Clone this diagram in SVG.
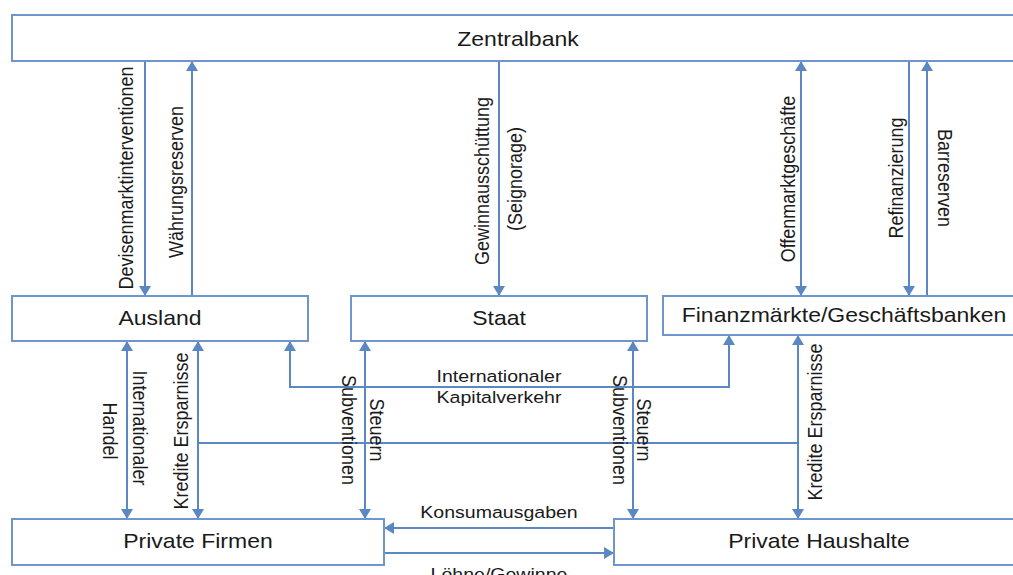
<svg xmlns="http://www.w3.org/2000/svg" width="1013" height="575" viewBox="0 0 1013 575">
  <defs>
    <style>
      .box { fill: #ffffff; stroke: #6f96cc; stroke-width: 2; }
      .node-label { font-family: "Liberation Sans", Arial, sans-serif; font-size: 20px; fill: #1a1a1a; text-anchor: middle; }
      .flow { fill: none; stroke: #5b87c3; stroke-width: 2; }
      .flow-label { font-family: "Liberation Sans", Arial, sans-serif; font-size: 17px; fill: #1a1a1a; text-anchor: middle; }
      .vlabel { font-family: "Liberation Sans", Arial, sans-serif; font-size: 18px; fill: #1a1a1a; text-anchor: middle; }
    </style>
    <marker id="ah" viewBox="0 0 10 12" refX="10" refY="6" markerWidth="10" markerHeight="12" markerUnits="userSpaceOnUse" orient="auto-start-reverse">
      <path d="M0,0 L10,6 L0,12 z" fill="#5b87c3"/>
    </marker>
  </defs>

  <rect width="1013" height="575" fill="#ffffff"/>

  <!-- connectors -->
  <g id="connectors">
    <!-- Zentralbank <-> Ausland -->
    <line class="flow" x1="145" y1="61" x2="145" y2="296" marker-end="url(#ah)"/>
    <line class="flow" x1="192" y1="296" x2="192" y2="61" marker-end="url(#ah)"/>
    <!-- Zentralbank -> Staat -->
    <line class="flow" x1="499" y1="61" x2="499" y2="296" marker-end="url(#ah)"/>
    <!-- Zentralbank <-> Finanzmaerkte -->
    <line class="flow" x1="801" y1="61" x2="801" y2="296" marker-start="url(#ah)" marker-end="url(#ah)"/>
    <line class="flow" x1="909" y1="61" x2="909" y2="296" marker-end="url(#ah)"/>
    <line class="flow" x1="927" y1="296" x2="927" y2="61" marker-end="url(#ah)"/>
    <!-- Ausland <-> Private Firmen -->
    <line class="flow" x1="127" y1="341" x2="127" y2="519" marker-start="url(#ah)" marker-end="url(#ah)"/>
    <line class="flow" x1="198" y1="341" x2="198" y2="519" marker-start="url(#ah)" marker-end="url(#ah)"/>
    <!-- Kredite / Ersparnisse cross link -->
    <line class="flow" x1="198" y1="443" x2="798" y2="443"/>
    <line class="flow" x1="798" y1="335" x2="798" y2="519" marker-start="url(#ah)" marker-end="url(#ah)"/>
    <!-- Internationaler Kapitalverkehr -->
    <polyline class="flow" points="290,341 290,387 729,387 729,335" marker-start="url(#ah)" marker-end="url(#ah)"/>
    <!-- Staat <-> Firmen / Haushalte -->
    <line class="flow" x1="365" y1="341" x2="365" y2="519" marker-start="url(#ah)" marker-end="url(#ah)"/>
    <line class="flow" x1="633" y1="341" x2="633" y2="519" marker-start="url(#ah)" marker-end="url(#ah)"/>
    <!-- Firmen <-> Haushalte -->
    <line class="flow" x1="614" y1="528" x2="384" y2="528" marker-end="url(#ah)"/>
    <line class="flow" x1="384" y1="553" x2="614" y2="553" marker-end="url(#ah)"/>

    <!-- connector labels -->
    <text class="vlabel" transform="translate(133,178) scale(1.15,1) rotate(-90)">Devisenmarktinterventionen</text>
    <text class="vlabel" transform="translate(183,182) scale(1.15,1) rotate(-90)">Währungsreserven</text>
    <text class="vlabel" transform="translate(489,181) scale(1.15,1) rotate(-90)">Gewinnausschüttung</text>
    <text class="vlabel" transform="translate(522,179) scale(1.15,1) rotate(-90)">(Seignorage)</text>
    <text class="vlabel" transform="translate(795,179) scale(1.15,1) rotate(-90)">Offenmarktgeschäfte</text>
    <text class="vlabel" transform="translate(903,178) scale(1.15,1) rotate(-90)">Refinanzierung</text>
    <text class="vlabel" transform="translate(938,178) scale(1.15,1) rotate(90)">Barreserven</text>

    <text class="vlabel" transform="translate(103,431) scale(1.15,1) rotate(90)">Handel</text>
    <text class="vlabel" transform="translate(133,428) scale(1.15,1) rotate(90)">Internationaler</text>
    <text class="vlabel" transform="translate(188,431) scale(1.15,1) rotate(-90)">Kredite Ersparnisse</text>
    <text class="vlabel" transform="translate(342,430) scale(1.15,1) rotate(90)">Subventionen</text>
    <text class="vlabel" transform="translate(370,430) scale(1.15,1) rotate(90)">Steuern</text>
    <text class="vlabel" transform="translate(613,430) scale(1.15,1) rotate(90)">Subventionen</text>
    <text class="vlabel" transform="translate(637,430) scale(1.15,1) rotate(90)">Steuern</text>
    <text class="vlabel" transform="translate(822,422) scale(1.15,1) rotate(-90)">Kredite Ersparnisse</text>

    <text class="flow-label" transform="translate(499,382) scale(1.15,1)">Internationaler</text>
    <text class="flow-label" transform="translate(499,403) scale(1.15,1)">Kapitalverkehr</text>
    <text class="flow-label" transform="translate(499,518) scale(1.15,1)">Konsumausgaben</text>
    <text class="flow-label" transform="translate(499,580) scale(1.15,1)">Löhne/Gewinne</text>
  </g>

  <!-- nodes -->
  <g id="zentralbank">
    <rect class="box" x="12" y="15" width="1010" height="46"/>
    <text class="node-label" transform="translate(518,46) scale(1.15,1)">Zentralbank</text>
  </g>
  <g id="ausland">
    <rect class="box" x="12" y="296" width="296" height="45"/>
    <text class="node-label" transform="translate(160,325) scale(1.15,1)">Ausland</text>
  </g>
  <g id="staat">
    <rect class="box" x="351" y="296" width="296" height="45"/>
    <text class="node-label" transform="translate(499,325) scale(1.15,1)">Staat</text>
  </g>
  <g id="finanzmaerkte">
    <rect class="box" x="663" y="296" width="360" height="39"/>
    <text class="node-label" transform="translate(844,322) scale(1.15,1)">Finanzmärkte/Geschäftsbanken</text>
  </g>
  <g id="private-firmen">
    <rect class="box" x="12" y="519" width="372" height="46"/>
    <text class="node-label" transform="translate(198,548) scale(1.15,1)">Private Firmen</text>
  </g>
  <g id="private-haushalte">
    <rect class="box" x="614" y="519" width="410" height="46"/>
    <text class="node-label" transform="translate(819,548) scale(1.15,1)">Private Haushalte</text>
  </g>
</svg>
